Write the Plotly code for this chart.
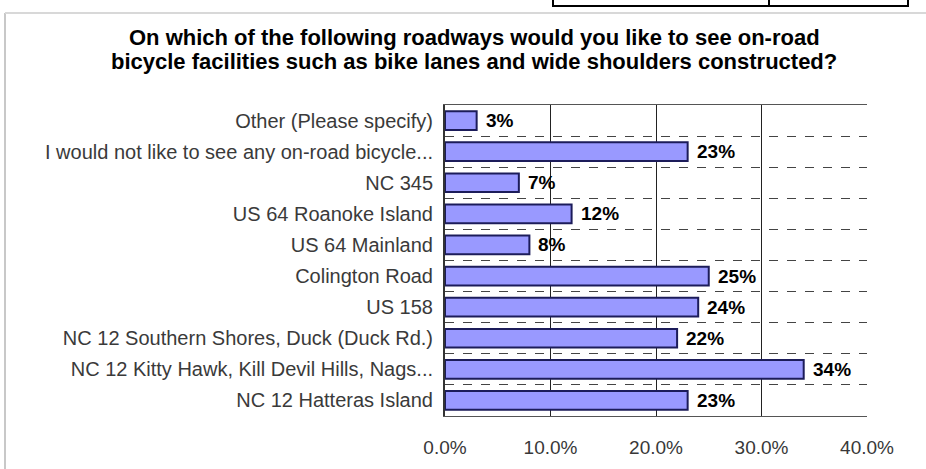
import plotly.graph_objects as go

# Survey answers, top to bottom as listed
roadways = [
    "Other (Please specify)",
    "I would not like to see any on-road bicycle...",
    "NC 345",
    "US 64 Roanoke Island",
    "US 64 Mainland",
    "Colington Road",
    "US 158",
    "NC 12 Southern Shores, Duck (Duck Rd.)",
    "NC 12 Kitty Hawk, Kill Devil Hills, Nags...",
    "NC 12 Hatteras Island",
]
percent = [3, 23, 7, 12, 8, 25, 24, 22, 34, 23]
x_ticks = [0, 10, 20, 30, 40]
x_tick_text = ["0.0%", "10.0%", "20.0%", "30.0%", "40.0%"]
title_lines = [
    "On which of the following roadways would you like to see on-road",
    "bicycle facilities such as bike lanes and wide shoulders constructed?",
]

positions = list(range(len(roadways)))
FONT = "Liberation Sans, Arial, sans-serif"

W, H = 926, 469
L, R, T, B = 445, 59, 105, 53
PW, PH = W - L - R, H - T - B


def px_x(x):
    return (x - L) / PW


def px_y(y):
    return (H - B - y) / PH


fig = go.Figure(
    go.Bar(
        x=percent,
        y=positions,
        orientation="h",
        width=0.6,
        marker=dict(color="#9999FF", line=dict(color="#1c1c5a", width=2)),
        hovertemplate="%{x}%<extra></extra>",
    )
)

# Value labels just right of each bar end
annotations = [
    dict(text=f"{v}%", x=v, y=p, xref="x", yref="y", xanchor="left", yanchor="middle",
         xshift=7, showarrow=False,
         font=dict(family=FONT, size=19, color="#000000", weight="bold"))
    for v, p in zip(percent, positions)
]

# Two-line title with tight line spacing
annotations += [
    dict(text=line, xref="paper", yref="paper", x=px_x(474), y=px_y(38 + 23 * i),
         xanchor="center", yanchor="middle", showarrow=False,
         font=dict(family=FONT, size=22, color="#000000", weight="bold"))
    for i, line in enumerate(title_lines)
]

fig.update_layout(
    width=W,
    height=H,
    margin=dict(l=L, r=R, t=T, b=B),
    paper_bgcolor="white",
    plot_bgcolor="white",
    showlegend=False,
    annotations=annotations,
    xaxis=dict(
        range=[0, 40],
        tickvals=x_ticks,
        ticktext=x_tick_text,
        showgrid=True,
        gridcolor="#222222",
        gridwidth=1,
        zeroline=False,
        showline=True,
        linecolor="#555555",
        linewidth=1,
        mirror=True,
        ticks="",
        ticklabelstandoff=14,
        tickfont=dict(family=FONT, size=19, color="#383838"),
    ),
    yaxis=dict(
        range=[len(roadways) - 0.5, -0.5],
        tickvals=positions,
        ticktext=roadways,
        showgrid=False,
        zeroline=False,
        showline=True,
        linecolor="#333333",
        linewidth=2,
        ticks="",
        ticklabelstandoff=6,
        tickfont=dict(family=FONT, size=20, color="#3a3a3a"),
        minor=dict(
            tickvals=[p + 0.5 for p in positions[:-1]],
            showgrid=True,
            gridcolor="#444444",
            gridwidth=1,
            griddash="dash",
            ticks="",
        ),
    ),
    shapes=[
        # outer chart frame
        dict(type="line", xref="paper", yref="paper",
             x0=px_x(5), x1=px_x(5), y0=px_y(469), y1=px_y(13),
             line=dict(color="#c8c8c8", width=2)),
        dict(type="line", xref="paper", yref="paper",
             x0=px_x(5), x1=px_x(926), y0=px_y(13), y1=px_y(13),
             line=dict(color="#d8d8d8", width=2)),
        # table cell edges above the chart
        dict(type="rect", xref="paper", yref="paper",
             x0=px_x(553), x1=px_x(908), y0=px_y(6), y1=px_y(-6),
             line=dict(color="#000000", width=2)),
        dict(type="line", xref="paper", yref="paper",
             x0=px_x(769), x1=px_x(769), y0=px_y(6), y1=px_y(-6),
             line=dict(color="#000000", width=2)),
    ],
)

fig.write_html("out.html")
